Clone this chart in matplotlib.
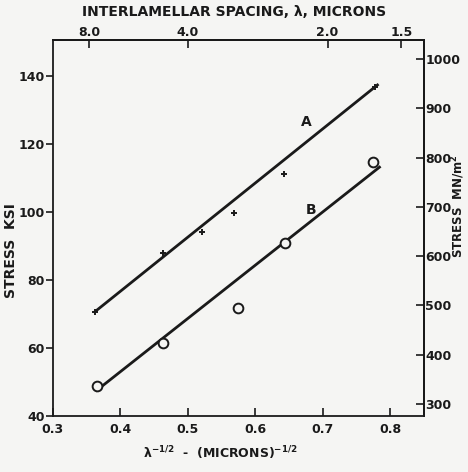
import numpy as np
import matplotlib.pyplot as plt

# values (x = lambda^-1/2, y = stress in ksi)
a_x = [0.362, 0.463, 0.521, 0.568, 0.642, 0.777]
a_y = [70.6, 87.9, 94.1, 99.7, 111.2, 136.8]
b_x = [0.365, 0.463, 0.574, 0.644, 0.774]
b_y = [48.8, 61.5, 71.8, 90.9, 114.7]
# fitted lines, end points
fit_a_x = [0.362, 0.781]
fit_a_y = [70.6, 137.4]
fit_b_x = [0.365, 0.784]
fit_b_y = [47.5, 113.2]

x_ticks = [0.3, 0.4, 0.5, 0.6, 0.7, 0.8]
ksi_ticks = [40, 60, 80, 100, 120, 140]
mpa_ticks = [300, 400, 500, 600, 700, 800, 900, 1000]
spacing_ticks = [8.0, 4.0, 2.0, 1.5]

KSI_TO_MPA = 6.895

plt.rcParams['font.family'] = ['DejaVu Sans']
plt.rcParams['font.weight'] = 'bold'
plt.rcParams['mathtext.default'] = 'bf'

bg = '#f5f5f3'
ink = '#1a1a1a'

fig = plt.figure(figsize=(4.68, 4.72), dpi=100, facecolor=bg)
ax = fig.add_axes([0.113, 0.119, 0.793, 0.796])
ax.set_facecolor(bg)

ax.plot(fit_a_x, fit_a_y, color=ink, linewidth=2.0)
ax.plot(fit_b_x, fit_b_y, color=ink, linewidth=2.0)
ax.plot(a_x, a_y, linestyle='none', marker='+', markersize=5, mew=1.4, color=ink)
ax.plot(b_x, b_y, linestyle='none', marker='o', markersize=7, mew=1.4,
        markerfacecolor=bg, markeredgecolor=ink)

ax.text(0.676, 126.5, 'A', fontsize=10, color=ink, ha='center', va='center')
ax.text(0.682, 100.6, 'B', fontsize=10, color=ink, ha='center', va='center')

ax.set_xlim(0.3, 0.85)
ax.set_ylim(40, 150.6)
ax.set_xticks(x_ticks)
ax.set_xticklabels(['0.3', '0.4', '0.5', '0.6', '0.7', '0.8'])
ax.set_yticks(ksi_ticks)
ax.tick_params(axis='x', direction='in', length=6, width=1.2, labelsize=9, colors=ink, pad=5)
ax.tick_params(axis='y', direction='out', length=5, width=1.2, labelsize=9, colors=ink, pad=1)
for s in ax.spines.values():
    s.set_linewidth(1.3)
    s.set_color(ink)

ax.set_ylabel('STRESS  KSI', fontsize=10, fontweight='bold', color=ink)
ax.yaxis.set_label_coords(-0.095, 0.44)
ax.set_xlabel(r'$\lambda^{-1/2}$  -  (MICRONS)$^{-1/2}$', fontsize=9, fontweight='bold', color=ink)
ax.xaxis.set_label_coords(0.45, -0.075)

# right axis: same stress in MN/m^2
ax_r = ax.secondary_yaxis('right', functions=(lambda k: k * KSI_TO_MPA, lambda m: m / KSI_TO_MPA))
ax_r.set_yticks(mpa_ticks)
ax_r.tick_params(direction='in', length=6, width=1.2, labelsize=9, colors=ink, pad=1)
ax_r.spines['right'].set_linewidth(1.3)
fig.text(458 / 468, 1 - 206 / 472, 'STRESS  MN/m$^2$', rotation=90, fontsize=8.5,
         fontweight='bold', color=ink, ha='center', va='center')


# top axis: interlamellar spacing, x = lambda^-1/2
def to_spacing(x):
    x = np.clip(np.asarray(x, dtype=float), 1e-3, None)
    return x ** -2


def from_spacing(l):
    l = np.clip(np.asarray(l, dtype=float), 1e-3, None)
    return l ** -0.5


ax_t = ax.secondary_xaxis('top', functions=(to_spacing, from_spacing))
ax_t.set_xticks(spacing_ticks)
ax_t.set_xticklabels(['8.0', '4.0', '2.0', '1.5'])
ax_t.tick_params(direction='in', length=6, width=1.2, labelsize=9, colors=ink, pad=1)
ax_t.spines['top'].set_linewidth(1.3)
fig.text(234 / 468, 1 - 12 / 472, 'INTERLAMELLAR SPACING, λ, MICRONS', fontsize=10,
         fontweight='bold', color=ink, ha='center', va='center')

fig.savefig('out.png', dpi=100, facecolor=bg)
